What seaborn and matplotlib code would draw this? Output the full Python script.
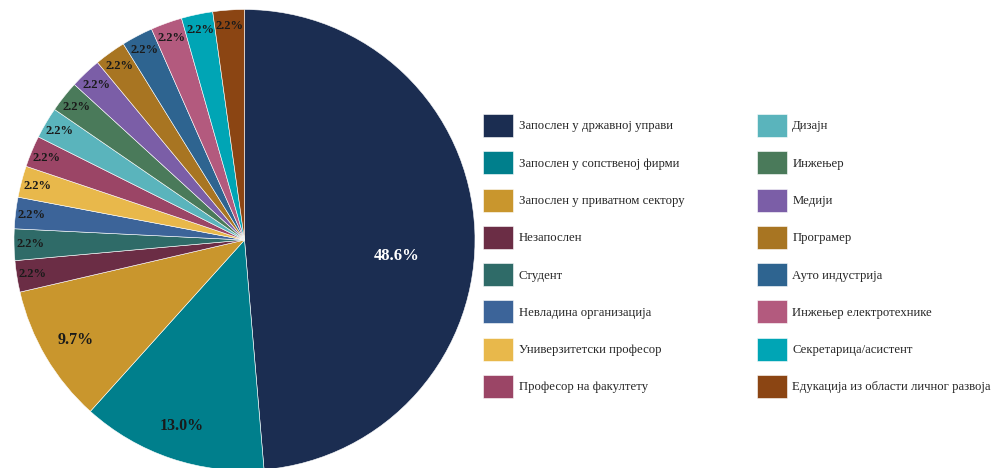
import numpy as np
import matplotlib
matplotlib.use("Agg")
import matplotlib.pyplot as plt
import seaborn as sns

# categories and shares (percent)
categories = [
    "Запослен у државној управи",
    "Запослен у сопственој фирми",
    "Запослен у приватном сектору",
    "Незапослен",
    "Студент",
    "Невладина организација",
    "Универзитетски професор",
    "Професор на факултету",
    "Дизајн",
    "Инжењер",
    "Медији",
    "Програмер",
    "Ауто индустрија",
    "Инжењер електротехнике",
    "Секретарица/асистент",
    "Едукација из области личног развоја",
]
shares = [48.6, 13.0, 9.7, 2.2, 2.2, 2.2, 2.2, 2.2, 2.2, 2.2, 2.2, 2.2, 2.2, 2.2, 2.2, 2.2]
colors = [
    "#1B2D51", "#007F8C", "#C9962D", "#6B2D45",
    "#2F6B68", "#3C6499", "#E8B84B", "#9B4566",
    "#5AB4BC", "#4A7A5A", "#7B5EA7", "#A87522",
    "#2E6490", "#B35A7E", "#00A5B5", "#8B4513",
]

sns.set_style("white")
plt.rcParams["font.family"] = ["Liberation Serif", "DejaVu Serif"]

fig = plt.figure(figsize=(9.95, 4.68), dpi=100)
ax = fig.add_axes([14 / 995, -2.5 / 468, 461 / 995, 461 / 468])

wedges, texts, autotexts = ax.pie(
    shares,
    colors=sns.color_palette(colors),
    startangle=90,
    counterclock=False,
    autopct="%.1f%%",
    pctdistance=0.85,
    wedgeprops=dict(edgecolor="white", linewidth=0.4),
)
ax.set_xlim(-1, 1)
ax.set_ylim(-1, 1)
ax.set_aspect("equal")

# percentage labels: big slice inside, small ones near the rim
for i, (w, t) in enumerate(zip(wedges, autotexts)):
    mid = np.deg2rad((w.theta1 + w.theta2) / 2)
    if i == 0:
        dist, mid = 0.665, np.deg2rad(-6)
        t.set_color("white")
        t.set_fontsize(12)
    elif shares[i] > 5:
        dist = 0.85
        t.set_color("#1a1a1a")
        t.set_fontsize(11.5)
    else:
        dist = 0.93
        t.set_color("#1a1a1a")
        t.set_fontsize(9)
    t.set_fontweight("bold")
    t.set_position((dist * np.cos(mid), dist * np.sin(mid)))

fig.legend(
    wedges,
    categories,
    loc="upper left",
    bbox_to_anchor=(483 / 995, 1 - 114 / 468),
    ncol=2,
    frameon=False,
    fontsize=9.2,
    borderpad=0,
    borderaxespad=0,
    handlelength=2.35,
    handleheight=2.39,
    handletextpad=0.45,
    labelspacing=1.12,
    columnspacing=5.65,
)

fig.savefig("out.png", dpi=100)
